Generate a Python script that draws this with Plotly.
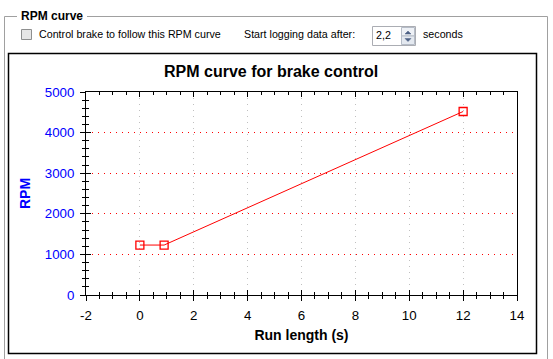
import plotly.graph_objects as go

# ---- data ----
run_length_s = [0.0, 0.9, 12.0]
rpm_values = [1230, 1230, 4520]
x_ticks = [-2, 0, 2, 4, 6, 8, 10, 12, 14]
x_tick_labels = ["-2", "0", "2", "4", "6", "8", "10", "12", "14"]
y_ticks = [0, 1000, 2000, 3000, 4000, 5000]
y_tick_labels = ["0", "1000", "2000", "3000", "4000", "5000"]

W, H = 553, 359
L, R, T, B = 86, 36, 92, 64
PW, PH = W - L - R, H - T - B


def px(x):
    return (x - L) / PW


def py(y):
    return (H - B - y) / PH


FONT = "Liberation Sans, Arial, sans-serif"
UI = 10.7

fig = go.Figure()
fig.add_trace(go.Scatter(
    x=run_length_s, y=rpm_values, mode="lines+markers",
    line=dict(color="#ff0000", width=1),
    marker=dict(symbol="square-open", size=8, color="#ff0000", line=dict(width=1.3, color="#ff0000")),
    showlegend=False, hoverinfo="x+y"))
# invisible twin to carry the inside-tick axes
fig.add_trace(go.Scatter(
    x=run_length_s, y=rpm_values, mode="markers", xaxis="x2", yaxis="y2",
    marker=dict(opacity=0), showlegend=False, hoverinfo="skip"))

common_x = dict(range=[x_ticks[0], x_ticks[-1]], tickvals=x_ticks, ticktext=x_tick_labels, zeroline=False)
common_y = dict(range=[y_ticks[0], y_ticks[-1]], tickvals=y_ticks, ticktext=y_tick_labels, zeroline=False)

shapes = [
    # group box
    dict(type="line", xref="paper", yref="paper", x0=px(4.5), x1=px(17), y0=py(16.5), y1=py(16.5),
         line=dict(color="#a0a0a0", width=1)),
    dict(type="line", xref="paper", yref="paper", x0=px(87), x1=px(547.5), y0=py(16.5), y1=py(16.5),
         line=dict(color="#a0a0a0", width=1)),
    dict(type="line", xref="paper", yref="paper", x0=px(4.5), x1=px(4.5), y0=py(16.5), y1=py(360),
         line=dict(color="#a0a0a0", width=1)),
    dict(type="line", xref="paper", yref="paper", x0=px(547.5), x1=px(547.5), y0=py(16.5), y1=py(360),
         line=dict(color="#a0a0a0", width=1)),
    # chart panel border
    dict(type="rect", xref="paper", yref="paper", x0=px(8.5), x1=px(536.5), y0=py(53.5), y1=py(353.5),
         line=dict(color="#000000", width=1.5)),
    # checkbox
    dict(type="rect", xref="paper", yref="paper", x0=px(21.5), x1=px(31.5), y0=py(29.5), y1=py(39.5),
         line=dict(color="#8e8f8f", width=1), fillcolor="#e6e6e6"),
    # numeric textbox
    dict(type="rect", xref="paper", yref="paper", x0=px(372.5), x1=px(415.5), y0=py(26.5), y1=py(45.5),
         line=dict(color="#abadb3", width=1), fillcolor="#ffffff"),
    dict(type="rect", xref="paper", yref="paper", x0=px(401.5), x1=px(414.5), y0=py(27.5), y1=py(36),
         line=dict(color="#b5bcc7", width=1), fillcolor="#eef1f6"),
    dict(type="rect", xref="paper", yref="paper", x0=px(401.5), x1=px(414.5), y0=py(36), y1=py(44.5),
         line=dict(color="#b5bcc7", width=1), fillcolor="#e4e9f0"),
    dict(type="path", xref="paper", yref="paper",
         path=f"M {px(405)} {py(34)} L {px(411)} {py(34)} L {px(408)} {py(31)} Z",
         line=dict(color="#4d6185", width=0.5), fillcolor="#4d6185"),
    dict(type="path", xref="paper", yref="paper",
         path=f"M {px(405)} {py(38.5)} L {px(411)} {py(38.5)} L {px(408)} {py(41.5)} Z",
         line=dict(color="#4d6185", width=0.5), fillcolor="#4d6185"),
]

annotations = [
    dict(text="<b>RPM curve</b>", x=px(19), y=py(16), xanchor="left", yanchor="middle",
         font=dict(family=FONT, size=12, color="#000000")),
    dict(text="Control brake to follow this RPM curve", x=px(37), y=py(34.5), xanchor="left", yanchor="middle",
         font=dict(family=FONT, size=UI, color="#000000")),
    dict(text="Start logging data after:", x=px(242), y=py(34.5), xanchor="left", yanchor="middle",
         font=dict(family=FONT, size=UI, color="#000000")),
    dict(text="2,2", x=px(374), y=py(35), xanchor="left", yanchor="middle",
         font=dict(family=FONT, size=UI, color="#000000")),
    dict(text="seconds", x=px(421), y=py(34.5), xanchor="left", yanchor="middle",
         font=dict(family=FONT, size=UI, color="#000000")),
    dict(text="<b>RPM curve for brake control</b>", x=px(271), y=py(72), xanchor="center", yanchor="middle",
         font=dict(family=FONT, size=16, color="#000000")),
]
for a in annotations:
    a.update(xref="paper", yref="paper", showarrow=False)

fig.update_layout(
    width=W, height=H,
    margin=dict(l=L, r=R, t=T, b=B, pad=0),
    paper_bgcolor="#ffffff", plot_bgcolor="#ffffff",
    font=dict(family=FONT, color="#000000"),
    xaxis=dict(**common_x, showline=True, linecolor="#000000", linewidth=1, mirror=True,
               ticks="outside", ticklen=5, tickwidth=1, tickcolor="#000000",
               minor=dict(dtick=0.5, ticks="outside", ticklen=3, tickcolor="#000000", showgrid=False),
               showgrid=True, gridcolor="#c0c0c0", griddash="1px,5px", gridwidth=1,
               tickfont=dict(family=FONT, size=13.3, color="#000000"), ticklabelstandoff=3,
               title=dict(text="<b>Run length (s)</b>", font=dict(family=FONT, size=14, color="#000000"),
                          standoff=8)),
    xaxis2=dict(**common_x, overlaying="x", side="bottom", showline=False, showgrid=False,
                ticks="inside", ticklen=5, tickwidth=1, tickcolor="#000000", mirror="ticks",
                minor=dict(dtick=0.5, ticks="inside", ticklen=3, tickcolor="#000000", showgrid=False),
                showticklabels=False),
    yaxis=dict(**common_y, showline=True, linecolor="#000000", linewidth=1, mirror=True,
               ticks="outside", ticklen=5, tickwidth=1, tickcolor="#000000",
               minor=dict(dtick=200, ticks="outside", ticklen=3, tickcolor="#000000", showgrid=False),
               showgrid=True, gridcolor="#ff0000", griddash="1px,5px", gridwidth=1,
               tickfont=dict(family=FONT, size=13.3, color="#0000ff"), ticklabelstandoff=3,
               title=dict(text="<b>RPM</b>", font=dict(family=FONT, size=14, color="#0000ff"), standoff=10)),
    yaxis2=dict(**common_y, overlaying="y", side="left", showline=False, showgrid=False,
                ticks="inside", ticklen=5, tickwidth=1, tickcolor="#000000",
                minor=dict(dtick=200, ticks="inside", ticklen=3, tickcolor="#000000", showgrid=False),
                showticklabels=False),
    shapes=shapes,
    annotations=annotations,
)

fig.write_html("out.html", config={"displayModeBar": False},
               post_script="document.body.style.margin='0';document.body.style.padding='0';")
